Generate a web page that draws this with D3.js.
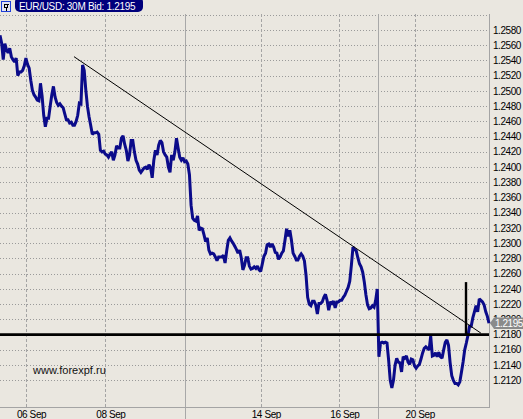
<!DOCTYPE html>
<html>
<head>
<meta charset="utf-8">
<script src="https://cdn.jsdelivr.net/npm/d3@7/dist/d3.min.js"></script>
<style>
    body { margin: 0; background: #eae7e0; }
    svg { display: block; }
</style>
</head>
<body>
<svg id="grafico"></svg>
<script>
var titulo = "EUR/USD: 30M Bid: 1.2195"
var ultimoBid = 1.2195
var site = "www.forexpf.ru"

//horaInicio = hora de pregao do primeiro ponto, contando a partir de 06 Sep 00:00 (fim de semana nao conta)
var horaInicio = -16
var bid = [
    1.2573, 1.2563, 1.2541, 1.2562, 1.2554, 1.2550, 1.2556, 1.2545, 1.2541, 1.2538,
    1.2543, 1.2520, 1.2525, 1.2525, 1.2527, 1.2533, 1.2543, 1.2535, 1.2530, 1.2514,
    1.2501, 1.2495, 1.2492, 1.2488, 1.2487, 1.2510, 1.2493, 1.2468, 1.2453, 1.2464,
    1.2464, 1.2480, 1.2495, 1.2506, 1.2492, 1.2485, 1.2481, 1.2483, 1.2480, 1.2478,
    1.2470, 1.2462, 1.2462, 1.2458, 1.2459, 1.2455, 1.2455, 1.2460, 1.2468, 1.2484,
    1.2483, 1.2534, 1.2527, 1.2501, 1.2480, 1.2466, 1.2455, 1.2443, 1.2445, 1.2445,
    1.2446, 1.2443, 1.2422, 1.2420, 1.2421, 1.2417, 1.2416, 1.2413, 1.2417, 1.2420,
    1.2409, 1.2416, 1.2428, 1.2425, 1.2425, 1.2438, 1.2441, 1.2430, 1.2422, 1.2408,
    1.2416, 1.2435, 1.2435, 1.2420, 1.2409, 1.2404, 1.2396, 1.2393, 1.2396, 1.2399,
    1.2400, 1.2397, 1.2403, 1.2399, 1.2386, 1.2409, 1.2422, 1.2416, 1.2429, 1.2435,
    1.2432, 1.2420, 1.2416, 1.2413, 1.2400, 1.2393, 1.2416, 1.2409, 1.2420, 1.2438,
    1.2425, 1.2413, 1.2409, 1.2412, 1.2407, 1.2408, 1.2404, 1.2390, 1.2350, 1.2333,
    1.2330, 1.2329, 1.2336, 1.2317, 1.2320, 1.2319, 1.2311, 1.2302, 1.2307, 1.2291,
    1.2286, 1.2287, 1.2286, 1.2282, 1.2277, 1.2282, 1.2282, 1.2282, 1.2284, 1.2274,
    1.2290, 1.2304, 1.2307, 1.2303, 1.2300, 1.2296, 1.2292, 1.2287, 1.2291, 1.2281,
    1.2265, 1.2271, 1.2281, 1.2281, 1.2270, 1.2266, 1.2267, 1.2269, 1.2267, 1.2270,
    1.2265, 1.2263, 1.2273, 1.2283, 1.2287, 1.2298, 1.2299, 1.2295, 1.2299, 1.2295,
    1.2288, 1.2287, 1.2279, 1.2282, 1.2287, 1.2290, 1.2304, 1.2319, 1.2309, 1.2317,
    1.2304, 1.2287, 1.2283, 1.2278, 1.2278, 1.2283, 1.2286, 1.2283, 1.2277, 1.2258,
    1.2229, 1.2220, 1.2218, 1.2224, 1.2224, 1.2219, 1.2207, 1.2221, 1.2221, 1.2223,
    1.2229, 1.2233, 1.2225, 1.2212, 1.2223, 1.2221, 1.2224, 1.2215, 1.2223, 1.2223,
    1.2225, 1.2225, 1.2229, 1.2232, 1.2237, 1.2242, 1.2250, 1.2271, 1.2295, 1.2292,
    1.2290, 1.2281, 1.2273, 1.2269, 1.2262, 1.2249, 1.2232, 1.2219, 1.2214, 1.2215,
    1.2218, 1.2216, 1.2225, 1.2240, 1.2151, 1.2169, 1.2170, 1.2169, 1.2170, 1.2169,
    1.2147, 1.2120, 1.2110, 1.2120, 1.2140, 1.2149, 1.2144, 1.2143, 1.2131, 1.2151,
    1.2149, 1.2152, 1.2144, 1.2141, 1.2148, 1.2147, 1.2139, 1.2136, 1.2139, 1.2141,
    1.2148, 1.2156, 1.2162, 1.2164, 1.2162, 1.2160, 1.2178, 1.2152, 1.2153, 1.2156,
    1.2151, 1.2157, 1.2151, 1.2149, 1.2160, 1.2170, 1.2173, 1.2166, 1.2143, 1.2126,
    1.2120, 1.2116, 1.2116, 1.2114, 1.2118, 1.2131, 1.2144, 1.2160, 1.2169, 1.2179,
    1.2191, 1.2191, 1.2202, 1.2210, 1.2218, 1.2210, 1.2227, 1.2225, 1.2223, 1.2219,
    1.2210, 1.2204, 1.2195
]

//eixo x: dias (tracejado) e separadores de semana (linha cheia)
var diasHoras = [0, 49, 145, 193.5, 240]
var diasNomes = ["06 Sep", "08 Sep", "14 Sep", "16 Sep", "20 Sep"]
var semanasHoras = [98, 217.5]

//eixo y: grade a cada 20 pips, a de cima fica sem rotulo
var precosGrade = [
    1.2120, 1.2140, 1.2160, 1.2180, 1.2200, 1.2220, 1.2240, 1.2260, 1.2280, 1.2300,
    1.2320, 1.2340, 1.2360, 1.2380, 1.2400, 1.2420, 1.2440, 1.2460, 1.2480, 1.2500,
    1.2520, 1.2540, 1.2560, 1.2580, 1.2600
]
var precosRotulo = precosGrade.filter(p => p < 1.2590)

//linhas que o analista desenhou por cima
var tendencia = [[29.7, 1.2545], [281, 1.2182]]
var suporte = 1.2180
var rompimento = [[271.8, 1.2180], [271.8, 1.2249]]

const width = 523
const height = 419
const direita = 489
const topo = 14
const baixo = 407

var svg = d3.select("#grafico")
    .attr("width", width)
    .attr("height", height)
    .style("background-color", "#eae7e0")

var x = d3.scaleLinear()
    .domain([horaInicio, horaInicio + bid.length - 1])
    .range([0, direita])

var y = d3.scaleLinear()
    .domain([1.2085, 1.2601])
    .range([baixo, topo])

//arredonda pra linha ficar nitida
function px(v) {
    return Math.round(v) + 0.5
}

var fonte = "'Liberation Sans', Arial, sans-serif"

//grade horizontal pontilhada
svg.append("g")
    .selectAll("line")
    .data(precosGrade)
    .join("line")
    .attr("x1", 0)
    .attr("x2", direita)
    .attr("y1", d => px(y(d)))
    .attr("y2", d => px(y(d)))
    .attr("stroke", "#9a9a9a")
    .attr("stroke-dasharray", "1,2")
    .attr("shape-rendering", "crispEdges")

//dias tracejados
svg.append("g")
    .selectAll("line")
    .data(diasHoras)
    .join("line")
    .attr("x1", d => px(x(d)))
    .attr("x2", d => px(x(d)))
    .attr("y1", topo)
    .attr("y2", baixo)
    .attr("stroke", "#a4a4a4")
    .attr("stroke-dasharray", "3,2")
    .attr("shape-rendering", "crispEdges")

//separador de semana vai ate o fim da tela
svg.append("g")
    .selectAll("line")
    .data(semanasHoras)
    .join("line")
    .attr("x1", d => px(x(d)))
    .attr("x2", d => px(x(d)))
    .attr("y1", topo)
    .attr("y2", height)
    .attr("stroke", "#a8a8a8")
    .attr("shape-rendering", "crispEdges")

//moldura (direita e embaixo)
svg.append("path")
    .attr("d", "M" + px(direita) + "," + topo + "V" + px(baixo) + "H0")
    .attr("fill", "none")
    .attr("stroke", "#a4a4a4")
    .attr("shape-rendering", "crispEdges")

//rotulos do eixo y
svg.append("g")
    .selectAll("text")
    .data(precosRotulo)
    .join("text")
    .attr("x", 493)
    .attr("y", d => y(d))
    .attr("dy", "0.36em")
    .style("font-family", fonte)
    .style("font-size", "10px")
    .style("letter-spacing", "-0.45px")
    .style("fill", "#000")
    .text(d => d.toFixed(4))

//rotulos dos dias
svg.append("g")
    .selectAll("text")
    .data(diasHoras)
    .join("text")
    .attr("x", (d, i) => x(d) - 9)
    .attr("y", 418)
    .style("font-family", fonte)
    .style("font-size", "10px")
    .style("letter-spacing", "-0.4px")
    .style("fill", "#000")
    .text((d, i) => diasNomes[i])

//a cotacao
var linha = d3.line()
    .x((d, i) => x(horaInicio + i))
    .y(d => y(d))

svg.append("path")
    .datum(bid)
    .attr("d", linha)
    .attr("fill", "none")
    .attr("stroke", "#0b0b8a")
    .attr("stroke-width", 3)
    .attr("stroke-linejoin", "miter")
    .attr("stroke-miterlimit", 2)

//linha de tendencia fininha
svg.append("line")
    .attr("x1", x(tendencia[0][0]))
    .attr("y1", y(tendencia[0][1]))
    .attr("x2", x(tendencia[1][0]))
    .attr("y2", y(tendencia[1][1]))
    .attr("stroke", "#000")
    .attr("stroke-width", 1)

//suporte horizontal grosso
svg.append("line")
    .attr("x1", 0)
    .attr("x2", direita)
    .attr("y1", y(suporte))
    .attr("y2", y(suporte))
    .attr("stroke", "#000")
    .attr("stroke-width", 2.6)

//rompimento vertical
svg.append("line")
    .attr("x1", x(rompimento[0][0]))
    .attr("x2", x(rompimento[1][0]))
    .attr("y1", y(rompimento[0][1]))
    .attr("y2", y(rompimento[1][1]))
    .attr("stroke", "#000")
    .attr("stroke-width", 2.4)

//etiqueta cinza com o ultimo preco (tapa o 1.2200, igual no original)
var yb = y(ultimoBid)
svg.append("path")
    .attr("d", "M" + (direita + 1) + "," + yb + "L" + (direita + 5) + "," + (yb - 5.8) +
        "H" + width + "V" + (yb + 5.8) + "H" + (direita + 5) + "Z")
    .attr("fill", "#8a8a8a")

svg.append("text")
    .attr("x", 495)
    .attr("y", yb)
    .attr("dy", "0.36em")
    .style("font-family", fonte)
    .style("font-size", "10px")
    .style("letter-spacing", "-0.45px")
    .style("fill", "#fff")
    .text(ultimoBid.toFixed(4))

//marca d'agua do site
svg.append("text")
    .attr("x", 33)
    .attr("y", 374)
    .style("font-family", fonte)
    .style("font-size", "11px")
    .style("fill", "#111")
    .text(site)

//titulo no canto (pilula azul) + iconezinho
svg.append("rect")
    .attr("x", 15)
    .attr("y", -3)
    .attr("width", 128)
    .attr("height", 15)
    .attr("rx", 5)
    .attr("fill", "#00007c")

svg.append("text")
    .attr("x", 19)
    .attr("y", 9.5)
    .style("font-family", fonte)
    .style("font-size", "10px")
    .style("letter-spacing", "-0.3px")
    .style("fill", "#fff")
    .text(titulo)

svg.append("rect")
    .attr("x", 1.5)
    .attr("y", 1.5)
    .attr("width", 9)
    .attr("height", 10)
    .attr("fill", "#e4e4f2")
    .attr("stroke", "#1f3fd8")

svg.append("path")
    .attr("d", "M3.5,4.5H8.5M4.5,4.5V7.5M7.5,4.5V7.5M4,7.5H8M6,7.5V10.5")
    .attr("fill", "none")
    .attr("stroke", "#000")
    .attr("shape-rendering", "crispEdges")
</script>
</body>
</html>
